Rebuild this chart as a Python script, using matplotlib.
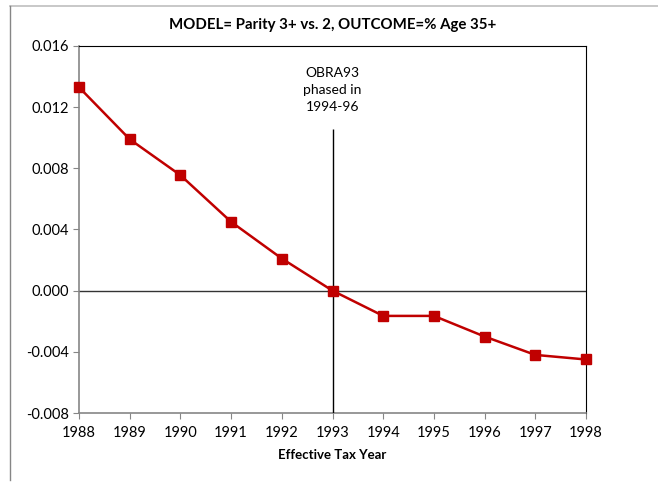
"""Parity 3+ vs. 2 event-study coefficients by effective tax year."""

import matplotlib.pyplot as plt
from matplotlib.lines import Line2D

years = [1988, 1989, 1990, 1991, 1992, 1993, 1994, 1995, 1996, 1997, 1998]
coefs = [0.0133, 0.0099, 0.00755, 0.0045, 0.0021, 0.0, -0.00165, -0.00165,
         -0.0030, -0.0042, -0.0045]
y_ticks = [-0.008, -0.004, 0.000, 0.004, 0.008, 0.012, 0.016]
policy_year = 1993
policy_line_top = 0.0106

plt.rcParams["font.family"] = ["Lato", "DejaVu Sans"]
gray = "#868686"

fig = plt.figure(figsize=(6.58, 4.83), dpi=100)
ax = fig.add_axes([0.1201, 0.1449, 0.7705, 0.7599])

ax.plot(years, coefs, color="#C00000", linewidth=1.8, marker="s",
        markersize=7, zorder=4, clip_on=False)
ax.axhline(0, color="#333333", linewidth=1.0, zorder=2)
ax.vlines(policy_year, -0.008, policy_line_top, color="black",
          linewidth=1.0, zorder=3)
ax.text(policy_year, 0.01165, "OBRA93\nphased in\n1994-96", ha="center",
        va="bottom", fontsize=10, linespacing=1.5)

ax.set_xlim(1988, 1998)
ax.set_ylim(-0.008, 0.016)
ax.set_xticks(years)
ax.set_xticklabels([str(y) for y in years])
ax.set_yticks(y_ticks)
ax.set_yticklabels([f"{v:.3f}" for v in y_ticks])
ax.tick_params(axis="both", direction="out", length=4, color=gray,
               labelsize=10.5, pad=3)
ax.tick_params(axis="x", pad=5)

ax.spines["left"].set_color(gray)
ax.spines["bottom"].set_color(gray)
ax.spines["left"].set_linewidth(1.2)
ax.spines["bottom"].set_linewidth(1.2)
ax.spines["top"].set_color("black")
ax.spines["right"].set_color("black")

ax.set_title("MODEL= Parity 3+ vs. 2, OUTCOME=% Age 35+", fontsize=10.8,
             fontweight="bold", pad=12)
ax.set_xlabel("Effective Tax Year", fontsize=9.5, fontweight="bold",
              labelpad=7)

# outer chart border, cut off by the page crop
fig.add_artist(Line2D([10 / 658, 1.0], [1 - 6 / 483, 1 - 6 / 483],
                      color="#BFBFBF", linewidth=1.2))
fig.add_artist(Line2D([10 / 658, 10 / 658], [1 - 6 / 483, 3 / 483],
                      color=gray, linewidth=1.0))

fig.savefig("out.png", dpi=100)
